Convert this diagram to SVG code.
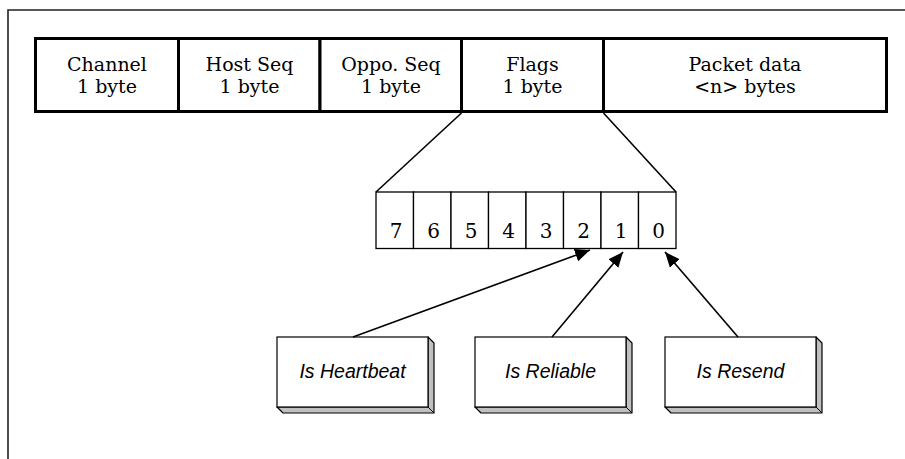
<svg xmlns="http://www.w3.org/2000/svg" width="905" height="459" viewBox="0 0 905 459">
  <defs>
    <style>
      .frame { fill: none; stroke: #222; stroke-width: 1.6; }
      .field { fill: #fff; stroke: #000; stroke-width: 3; }
      .bit { fill: #fff; stroke: #000; stroke-width: 1.3; }
      .serif { font-family: "DejaVu Serif", "Liberation Serif", serif; font-size: 19px; fill: #000; text-anchor: middle; }
      .digit { font-size: 20px; }
      .label { font-family: "Liberation Sans", Arial, sans-serif; font-style: italic; font-size: 19.5px; fill: #000; text-anchor: middle; }
      .face { fill: #fff; stroke: #000; stroke-width: 1.2; }
      .side { fill: #c0c0c0; stroke: #000; stroke-width: 1.2; stroke-linejoin: round; }
      .link { fill: none; stroke: #000; stroke-width: 1.6; }
    </style>
    <marker id="arrow" markerUnits="userSpaceOnUse" markerWidth="16" markerHeight="14" refX="15" refY="7" orient="auto">
      <path d="M0,0.5 L15,7 L0,13.5 Z" fill="#000"/>
    </marker>
    <!-- 3-D box: front face 151x70 with a 6px extruded edge -->
    <g id="box3d">
      <path class="side" d="M151,0 L157,6 L157,76 L6,76 L0,70 L151,70 Z"/>
      <line x1="151" y1="70" x2="157" y2="76" stroke="#000" stroke-width="1"/>
      <rect class="face" x="0" y="0" width="151" height="70"/>
    </g>
  </defs>

  <!-- page frame -->
  <path class="frame" d="M8,459 V10 H905"/>

  <!-- packet header fields -->
  <g id="field-channel">
    <rect class="field" x="35.5" y="38.5" width="143" height="73"/>
    <text class="serif" x="107" y="71">Channel</text>
    <text class="serif" x="107" y="93">1 byte</text>
  </g>
  <g id="field-hostseq">
    <rect class="field" x="178.5" y="38.5" width="141.5" height="73"/>
    <text class="serif" x="249.5" y="71">Host Seq</text>
    <text class="serif" x="249.5" y="93">1 byte</text>
  </g>
  <g id="field-opposeq">
    <rect class="field" x="320" y="38.5" width="141.5" height="73"/>
    <text class="serif" x="391" y="71">Oppo. Seq</text>
    <text class="serif" x="391" y="93">1 byte</text>
  </g>
  <g id="field-flags">
    <rect class="field" x="461.5" y="38.5" width="142" height="73"/>
    <text class="serif" x="532.5" y="71">Flags</text>
    <text class="serif" x="532.5" y="93">1 byte</text>
  </g>
  <g id="field-data">
    <rect class="field" x="603.5" y="38.5" width="283" height="73"/>
    <text class="serif" x="745" y="71">Packet data</text>
    <text class="serif" x="745" y="93">&lt;n&gt; bytes</text>
  </g>

  <!-- flag byte expanded into bits -->
  <g id="flag-bits">
    <rect class="bit" x="376" y="192" width="37.5" height="56.5"/>
    <rect class="bit" x="413.5" y="192" width="37.5" height="56.5"/>
    <rect class="bit" x="451" y="192" width="37.5" height="56.5"/>
    <rect class="bit" x="488.5" y="192" width="37.5" height="56.5"/>
    <rect class="bit" x="526" y="192" width="37.5" height="56.5"/>
    <rect class="bit" x="563.5" y="192" width="37.5" height="56.5"/>
    <rect class="bit" x="601" y="192" width="37.5" height="56.5"/>
    <rect class="bit" x="638.5" y="192" width="37.5" height="56.5"/>
    <text class="serif digit" x="396" y="238">7</text>
    <text class="serif digit" x="433.5" y="238">6</text>
    <text class="serif digit" x="471" y="238">5</text>
    <text class="serif digit" x="508.5" y="238">4</text>
    <text class="serif digit" x="546" y="238">3</text>
    <text class="serif digit" x="583.5" y="238">2</text>
    <text class="serif digit" x="621" y="238">1</text>
    <text class="serif digit" x="658.5" y="238">0</text>
  </g>

  <!-- flag meanings -->
  <g id="node-heartbeat" transform="translate(277,337)">
    <use href="#box3d"/>
    <text class="label" x="75.5" y="41">Is Heartbeat</text>
  </g>
  <g id="node-reliable" transform="translate(475,337)">
    <use href="#box3d"/>
    <text class="label" x="75.5" y="41">Is Reliable</text>
  </g>
  <g id="node-resend" transform="translate(665,337)">
    <use href="#box3d"/>
    <text class="label" x="75.5" y="41">Is Resend</text>
  </g>

  <!-- connectors -->
  <g id="connectors">
    <line class="link" x1="461.5" y1="113" x2="376" y2="192"/>
    <line class="link" x1="603.5" y1="113" x2="676" y2="192"/>
    <line class="link" x1="353" y1="337" x2="590" y2="250" marker-end="url(#arrow)"/>
    <line class="link" x1="552" y1="337" x2="623" y2="252" marker-end="url(#arrow)"/>
    <line class="link" x1="738" y1="337" x2="665" y2="252" marker-end="url(#arrow)"/>
  </g>
</svg>
